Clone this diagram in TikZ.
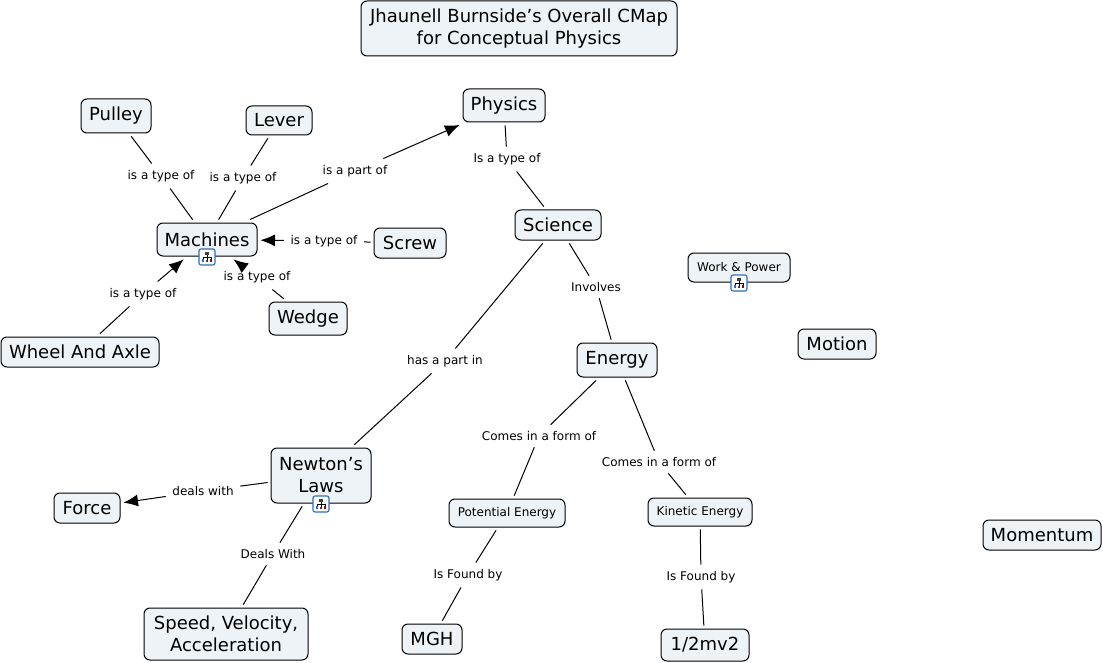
\documentclass[tikz,border=0pt]{standalone}
\usepackage{fontspec}
\setmainfont{DejaVu Sans}
\usetikzlibrary{arrows.meta}
\definecolor{boxfill}{HTML}{EDF3F6}
\definecolor{iconblue}{HTML}{2A6FC0}
\tikzset{
  concept/.style n args={2}{draw=black,fill=boxfill,line width=0.75pt,rounded corners=4.5pt,
    minimum width=#1*0.75pt,minimum height=#2*0.75pt,inner sep=0pt,align=center,outer sep=2.5pt,
    font=\fontsize{13.5}{16.5}\selectfont},
  small/.style={font=\fontsize{9}{11}\selectfont},
  linklabel/.style={inner sep=2pt,outer sep=3pt,font=\fontsize{9}{11}\selectfont},
  link/.style={line width=0.75pt,black},
  tip/.style={link,-{Latex[length=11pt,width=9pt]}},
  iconbox/.style={draw=iconblue,fill=white,line width=0.8pt,rounded corners=1.5pt,minimum size=12pt,inner sep=0pt},
  pics/hier/.style={code={
    \draw[line width=0.4pt,black] (0,-4)--(0,4) (-4.5,4)--(-4.5,0)--(4.5,0)--(4.5,4);
    \fill[black!75] (-1.8,-6) rectangle (1.8,-2.5);
    \fill[iconblue] (-6,2.5) rectangle (-2.8,6);
    \fill[black!75] (-1.6,3) rectangle (1.6,6);
    \fill[red!60!black] (2.8,2.5) rectangle (6,6);
  }}
}
\begin{document}
\begin{tikzpicture}[x=0.75pt,y=-0.75pt]
\useasboundingbox (0,0) rectangle (1103,663);
\node[concept={316}{55}] (title) at (519,28.5) {Jhaunell Burnside's Overall CMap\\for Conceptual Physics};
\node[concept={82}{33}] (physics) at (504,105.5) {Physics};
\node[concept={70}{34}] (pulley) at (116,116) {Pulley};
\node[concept={66}{29}] (lever) at (279,120.5) {Lever};
\node[concept={100}{33}] (machines) at (207,239.5) {Machines};
\node[concept={72}{30}] (screw) at (410,243) {Screw};
\node[concept={86}{30}] (science) at (558,225) {Science};
\node[concept={78}{33}] (wedge) at (308,318.5) {Wedge};
\node[concept={158}{30}] (wheel) at (80,352) {Wheel And Axle};
\node[concept={102}{29},small] (work) at (739,267.5) {Work \& Power};
\node[concept={78}{30}] (motion) at (837,344) {Motion};
\node[concept={80}{34}] (energy) at (617,360) {Energy};
\node[concept={100}{55}] (newton) at (321,475.5) {Newton's\\Laws};
\node[concept={66}{30}] (force) at (87,508) {Force};
\node[concept={116}{28},small] (potential) at (507,513) {Potential Energy};
\node[concept={104}{28},small] (kinetic) at (700,512) {Kinetic Energy};
\node[concept={118}{30}] (momentum) at (1042,535) {Momentum};
\node[concept={164}{52}] (speed) at (226,634) {Speed, Velocity,\\Acceleration};
\node[concept={60}{30}] (mgh) at (432,639) {MGH};
\node[concept={88}{32}] (half) at (705,645) {1/2mv2};

\node[linklabel] (l1) at (161,176) {is a type of};
\node[linklabel] (l2) at (243,178) {is a type of};
\node[linklabel] (l3) at (355,171) {is a part of};
\node[linklabel] (l4) at (507,159) {Is a type of};
\node[linklabel] (l5) at (324,241) {is a type of};
\node[linklabel] (l6) at (257,277) {is a type of};
\node[linklabel] (l7) at (143,294) {is a type of};
\node[linklabel] (l8) at (596,287) {Involves};
\node[linklabel] (l9) at (445,361) {has a part in};
\node[linklabel] (l10) at (539,436) {Comes in a form of};
\node[linklabel] (l11) at (659,462) {Comes in a form of};
\node[linklabel] (l12) at (203,491) {deals with};
\node[linklabel] (l13) at (273,554) {Deals With};
\node[linklabel] (l14) at (468,575) {Is Found by};
\node[linklabel] (l15) at (701,577) {Is Found by};

\draw[link] (pulley) -- (l1); \draw[link] (l1) -- (machines);
\draw[link] (lever) -- (l2); \draw[link] (l2) -- (machines);
\draw[link] (machines) -- (l3); \draw[tip] (l3) -- (physics);
\draw[link] (physics) -- (l4); \draw[link] (l4) -- (science);
\draw[link] (screw) -- (l5); \draw[tip] (l5) -- (machines);
\draw[link] (wedge) -- (l6); \draw[tip] (l6) -- (machines);
\draw[link] (wheel) -- (l7); \draw[tip] (l7) -- (machines);
\draw[link] (science) -- (l8); \draw[link] (l8) -- (energy);
\draw[link] (science) -- (l9); \draw[link] (l9) -- (newton);
\draw[link] (energy) -- (l10); \draw[link] (l10) -- (potential);
\draw[link] (energy) -- (l11); \draw[link] (l11) -- (kinetic);
\draw[link] (newton) -- (l12); \draw[tip] (l12) -- (force);
\draw[link] (newton) -- (l13); \draw[link] (l13) -- (speed);
\draw[link] (potential) -- (l14); \draw[link] (l14) -- (mgh);
\draw[link] (kinetic) -- (l15); \draw[link] (l15) -- (half);

\node[iconbox] (i1) at (207,257) {}; \pic[scale=0.9] at (i1) {hier};
\node[iconbox] (i2) at (739,283) {}; \pic[scale=0.9] at (i2) {hier};
\node[iconbox] (i3) at (321,504) {}; \pic[scale=0.9] at (i3) {hier};
\end{tikzpicture}
\end{document}
